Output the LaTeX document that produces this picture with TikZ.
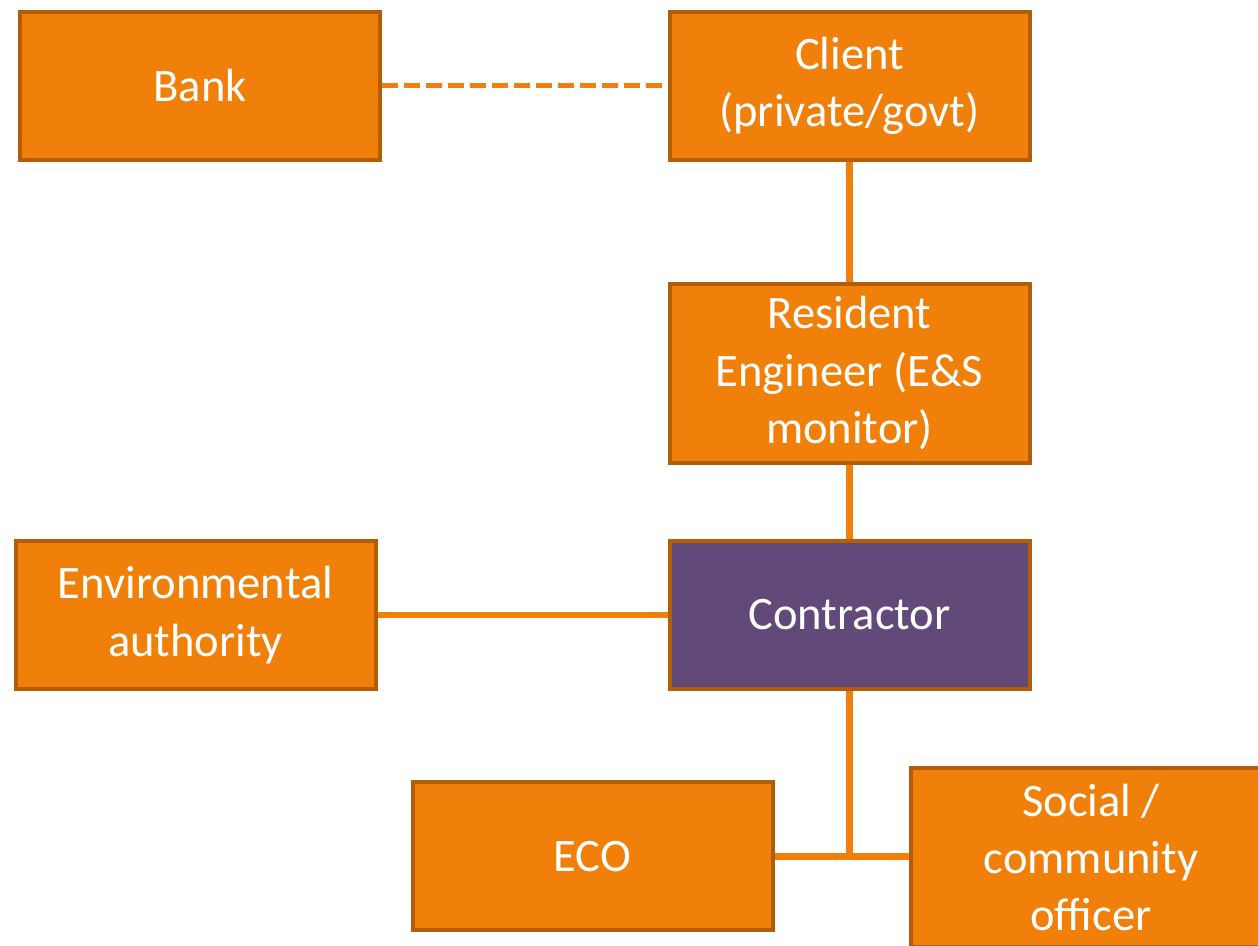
\documentclass[tikz,border=0pt]{standalone}
\usepackage{fontspec}
\setmainfont{Carlito}
\usepackage{xcolor}
\usetikzlibrary{positioning}
\definecolor{boxfill}{HTML}{F0800A}
\definecolor{boxedge}{HTML}{B35E06}
\definecolor{linkline}{HTML}{F0800A}
\definecolor{leadfill}{HTML}{614A79}
\tikzset{every node/.style = { font = \fontsize{26.5}{32.7}\selectfont }}

\begin{document}
\begin{tikzpicture}[party/.style = { draw = boxedge, fill = boxfill, line width = 0.08cm, text = white, align = center, minimum width = 7.2cm, minimum height = 2.96cm, inner sep = 0pt }, lead/.style = { party, fill = leadfill }, link/.style = { draw = linkline, line width = 0.13cm }]
				\useasboundingbox (0, 0) rectangle (25.16, -18.92);

				\node [party] (bank) at (4.0, -1.72) {Bank};
				\node [party, right = 5.71 of bank] (client) {Client\\(private/govt)};
				\node [party, minimum height = 3.58cm, below = 2.4 of client] (engineer) {Resident\\Engineer (E\&S\\monitor)};
				\node [lead, below = 1.48 of engineer] (contractor) {Contractor};
				\node [party, left = 5.8 of contractor] (authority) {Environmental\\authority};
				\node [party] (eco) at (11.85, -17.13) {ECO};
				\node [party, minimum height = 3.58cm] (social) at (21.82, -17.15) {Social /\\community\\officer};
				\coordinate (join) at (contractor.south |- eco.east);

				\draw [link, line width = 0.1cm, dash pattern = on 0.32cm off 0.12cm] (bank) -- (client);
				\draw [link] (client) -- (engineer);
				\draw [link] (engineer) -- (contractor);
				\draw [link] (authority) -- (contractor);
				\draw [link] (contractor) -- (join);
				\draw [link] (eco) -- (eco -| social.west);
			\end{tikzpicture}
\end{document}
